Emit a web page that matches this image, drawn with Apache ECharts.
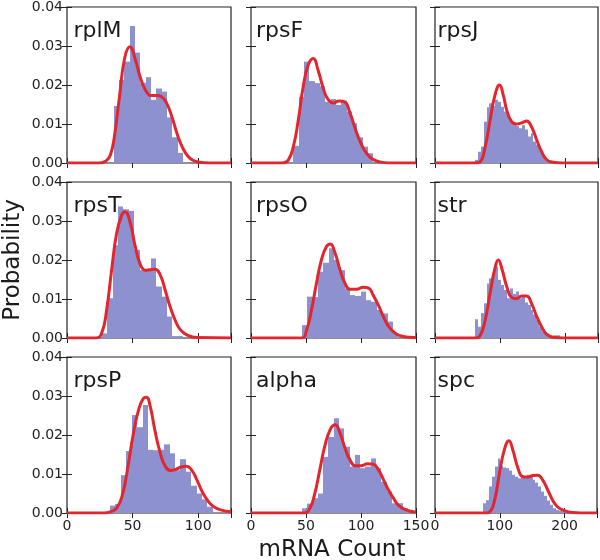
<!DOCTYPE html>
<html><head><meta charset="utf-8">
<script src="https://cdn.jsdelivr.net/npm/echarts@6/dist/echarts.min.js"></script>
<style>html,body{margin:0;padding:0;background:#fff}#c{width:600px;height:560px}</style>
</head><body><div id="c"></div>
<script>
// ---------- data ----------
const panelNames = ['rplM', 'rpsF', 'rpsJ', 'rpsT', 'rpsO', 'str', 'rpsP', 'alpha', 'spc'];
const colXMax = [125, 150, 250];
const colXInterval = [50, 50, 100];
const yMax = 0.04;
const yInterval = 0.01;
const xAxisTitle = 'mRNA Count';
const yAxisTitle = 'Probability';

// histogram bin starts, widths and heights
const histStart = [35.5, 38.5, 61, 26.4, 46.1, 61, 32.8, 46.1, 74];
const histWidth = [4.08, 4.85, 4.5, 4.15, 4.88, 4.5, 4.125, 4.83, 4.5];
const rplM_hist = [0.0146, 0.0213, 0.026, 0.0351, 0.0283, 0.0206, 0.022, 0.0162, 0.0191, 0.0183, 0.0117, 0.0066, 0.0026];
const rpsF_hist = [0.0044, 0.017, 0.026, 0.021, 0.0205, 0.0197, 0.0157, 0.0164, 0.0149, 0.016, 0.0132, 0.0102, 0.0066, 0.0042, 0.0025];
const rpsJ_hist = [0.0008, 0.0029, 0.0042, 0.0106, 0.0143, 0.0153, 0.0146, 0.0162, 0.0157, 0.0144, 0.0132, 0.0123, 0.0106, 0.01, 0.0095, 0.0089, 0.0097, 0.0086, 0.0068, 0.0076, 0.0055, 0.0047, 0.0033, 0.002, 0.001];
const rpsT_hist = [0.0012, 0.0102, 0.0238, 0.0337, 0.033, 0.0326, 0.0226, 0.0174, 0.0174, 0.0204, 0.0132, 0.0106, 0.0055, 0.0005, 0.0005];
const rpsO_hist = [0.0033, 0.0106, 0.0105, 0.017, 0.0193, 0.023, 0.02, 0.0174, 0.0127, 0.011, 0.0108, 0.0119, 0.0097, 0.0093, 0.0072, 0.0063, 0.0042, 0.0012];
const str_hist = [0.0048, 0.0029, 0.0064, 0.0089, 0.014, 0.0153, 0.0162, 0.0183, 0.0149, 0.0136, 0.0123, 0.0102, 0.0127, 0.0113, 0.0119, 0.0102, 0.0108, 0.0091, 0.0085, 0.0072, 0.006, 0.0046, 0.0029, 0.0016, 0.0009, 0, 0, 0.0007, 0.0007];
const rpsP_hist = [0.0019, 0.0023, 0.0097, 0.0159, 0.0251, 0.022, 0.0277, 0.0162, 0.0161, 0.0162, 0.0176, 0.0153, 0.011, 0.0138, 0.0106, 0.007, 0.005, 0.0035, 0.0016, 0.0003];
const alpha_hist = [0.0012, 0.0024, 0.0038, 0.005, 0.0144, 0.0195, 0.0243, 0.0217, 0.017, 0.0119, 0.0149, 0.0115, 0.0119, 0.014, 0.0115, 0.008, 0.0055, 0.0025, 0.0025, 0.0012, 0.0008];
const spc_hist = [0.0025, 0.0033, 0.0068, 0.0093, 0.0119, 0.014, 0.0121, 0.0117, 0.0115, 0.0109, 0.0098, 0.0093, 0.0089, 0.0093, 0.0091, 0.0098, 0.0093, 0.0085, 0.0078, 0.0068, 0.0055, 0.0044, 0.0032, 0.0021, 0.0012, 0.0008, 0.0006, 0.0004, 0.0003];

// fitted curves (x, probability)
const rplM_curveX = [0, 25, 30, 33, 36, 40, 44, 48, 52, 56, 60, 64, 68, 72, 76, 80, 84, 88, 92, 96, 101, 108, 125];
const rplM_curveY = [0, 0, 0.0006, 0.002, 0.0065, 0.017, 0.027, 0.0298, 0.0266, 0.0218, 0.0186, 0.0173, 0.0173, 0.017, 0.0153, 0.0118, 0.0074, 0.004, 0.0018, 0.0007, 0.0002, 0, 0];
const rpsF_curveX = [0, 29, 34, 38.5, 43, 47.5, 52, 56.5, 61, 65.5, 70, 75, 80, 85, 90, 95, 100, 105, 110, 117, 125, 150];
const rpsF_curveY = [0, 0, 0.0008, 0.0042, 0.011, 0.0196, 0.0251, 0.0268, 0.0238, 0.0193, 0.0163, 0.0154, 0.0159, 0.0157, 0.0128, 0.0086, 0.005, 0.0025, 0.0011, 0.0003, 0, 0];
const rpsJ_curveX = [0, 61, 69, 77, 84.5, 92, 99, 105, 110, 117.5, 125, 133, 140.5, 148, 156, 163.5, 171, 181, 195, 250];
const rpsJ_curveY = [0, 0, 0.0003, 0.0042, 0.011, 0.0174, 0.02, 0.0172, 0.0136, 0.0106, 0.01, 0.0103, 0.0108, 0.0093, 0.0059, 0.0029, 0.0009, 0.0002, 0, 0];
const rpsT_curveX = [0, 22, 26.4, 30.2, 34, 37.8, 41.7, 44.2, 48, 51.8, 55.6, 59.5, 63.3, 67.1, 71, 74.8, 78.6, 82.4, 86.2, 91.3, 99, 125];
const rpsT_curveY = [0, 0, 0.0012, 0.0072, 0.0174, 0.0268, 0.0315, 0.0324, 0.0298, 0.0238, 0.0191, 0.0174, 0.0175, 0.0176, 0.0162, 0.0123, 0.008, 0.0046, 0.0022, 0.0008, 0.0001, 0];
const rpsO_curveX = [0, 46, 50.5, 55, 59.5, 64, 68.5, 72, 76.5, 81, 85.5, 90, 96, 102, 107, 111, 116, 120, 125, 129.5, 135.5, 144.5, 150];
const rpsO_curveY = [0, 0, 0.002, 0.0072, 0.014, 0.02, 0.0234, 0.0241, 0.0217, 0.0174, 0.014, 0.0125, 0.0125, 0.013, 0.0128, 0.011, 0.0083, 0.0057, 0.003, 0.0016, 0.0006, 0.0002, 0.0001];
const str_curveX = [0, 61, 69, 77, 84.5, 92, 97, 103, 110, 117.5, 125, 133, 140.5, 148, 156, 163.5, 171, 181, 195, 250];
const str_curveY = [0, 0, 0.0006, 0.0046, 0.0115, 0.0179, 0.02, 0.0175, 0.0132, 0.0104, 0.0101, 0.0108, 0.0108, 0.0089, 0.0055, 0.0029, 0.001, 0.0002, 0, 0];
const rpsP_curveX = [0, 28, 33, 38, 42.5, 46.5, 50.5, 54.5, 58, 60.5, 63.5, 67, 71, 75, 79, 83, 87, 91, 95, 99, 103, 107, 111.5, 117, 125];
const rpsP_curveY = [0, 0, 0.0003, 0.0013, 0.005, 0.012, 0.0202, 0.0264, 0.0293, 0.0297, 0.0272, 0.0212, 0.0155, 0.0119, 0.0109, 0.0112, 0.0118, 0.012, 0.011, 0.0085, 0.0055, 0.0033, 0.0017, 0.0008, 0.0003];
const alpha_curveX = [0, 48, 53.5, 58, 62.5, 67, 72, 76.5, 81, 85.5, 90, 95, 100, 106, 111, 116, 120.5, 125, 129.5, 134, 140, 147.5, 150];
const alpha_curveY = [0, 0, 0.0012, 0.005, 0.011, 0.017, 0.0214, 0.0226, 0.0204, 0.0166, 0.0136, 0.0121, 0.0121, 0.0126, 0.0125, 0.011, 0.0085, 0.0059, 0.0038, 0.002, 0.0009, 0.0003, 0.0002];
const spc_curveX = [0, 78, 84.5, 92, 99.5, 107, 114, 120, 128, 135.5, 143, 151, 158.5, 166, 174, 181.5, 189, 199.5, 212, 225, 250];
const spc_curveY = [0, 0, 0.0003, 0.0033, 0.0102, 0.0162, 0.0185, 0.0162, 0.0115, 0.0093, 0.0092, 0.0096, 0.0097, 0.0085, 0.0059, 0.0033, 0.0016, 0.0006, 0.0001, 0, 0];

const histHeights = [rplM_hist, rpsF_hist, rpsJ_hist, rpsT_hist, rpsO_hist, str_hist, rpsP_hist, alpha_hist, spc_hist];
const curveXs = [rplM_curveX, rpsF_curveX, rpsJ_curveX, rpsT_curveX, rpsO_curveX, str_curveX, rpsP_curveX, alpha_curveX, spc_curveX];
const curveYs = [rplM_curveY, rpsF_curveY, rpsJ_curveY, rpsT_curveY, rpsO_curveY, str_curveY, rpsP_curveY, alpha_curveY, spc_curveY];

// ---------- layout / style ----------
const colLeft = [67, 251, 435];
const colWidth = [164, 165, 163];
const rowTop = [7, 182, 357];
const rowHeight = 156;
const titleOffsetX = [6.5, 5, 2.5];
const titleOffsetY = 13;
const FONT = 'DejaVu Sans';
const barColor = '#8e91cf';
const lineColor = '#e3262e';
const frameColor = '#222';

const grids = [], xAxes = [], yAxes = [], series = [], titles = [];
for (let i = 0; i < 9; i++) {
  const r = Math.floor(i / 3), c = i % 3;
  grids.push({ left: colLeft[c], top: rowTop[r], width: colWidth[c], height: rowHeight,
    show: true, borderColor: frameColor, borderWidth: 1.2, backgroundColor: 'transparent', containLabel: false });
  const tick = { show: true, inside: true, length: 5, lineStyle: { color: frameColor, width: 1 } };
  const interval = colXInterval[c];
  const xBase = { gridIndex: i, type: 'value', min: 0, max: colXMax[c], interval: interval,
    axisLine: { show: false }, splitLine: { show: false }, axisTick: tick };
  xAxes.push(Object.assign({}, xBase, { position: 'bottom',
    axisLabel: { show: r === 2, margin: 6, fontSize: 14, fontFamily: FONT, color: '#222',
      formatter: v => (v % interval === 0 ? String(v) : '') } }));
  xAxes.push(Object.assign({}, xBase, { position: 'top', axisLabel: { show: false } }));
  const yBase = { gridIndex: i, type: 'value', min: 0, max: yMax, interval: yInterval,
    axisLine: { show: false }, splitLine: { show: false }, axisTick: tick };
  yAxes.push(Object.assign({}, yBase, { position: 'left',
    axisLabel: { show: c === 0, margin: 4, fontSize: 14, fontFamily: FONT, color: '#222',
      formatter: v => v.toFixed(2) } }));
  yAxes.push(Object.assign({}, yBase, { position: 'right', axisLabel: { show: false } }));

  const bars = histHeights[i].map((h, k) => [histStart[i] + k * histWidth[i], histStart[i] + (k + 1) * histWidth[i], h]);
  series.push({ type: 'custom', xAxisIndex: 2 * i, yAxisIndex: 2 * i, data: bars, z: 2,
    encode: { x: [0, 1], y: 2 }, silent: true,
    renderItem: (params, api) => {
      const p0 = api.coord([api.value(0), api.value(2)]);
      const p1 = api.coord([api.value(1), 0]);
      const xa = Math.round(p0[0]), xb = Math.round(p1[0]);
      return { type: 'rect', shape: { x: xa, y: p0[1], width: xb - xa, height: p1[1] - p0[1] },
        style: { fill: barColor, stroke: null } };
    } });
  series.push({ type: 'line', xAxisIndex: 2 * i, yAxisIndex: 2 * i, z: 5,
    data: curveXs[i].map((x, k) => [x, curveYs[i][k]]),
    showSymbol: false, smooth: 0.5, silent: true,
    lineStyle: { color: lineColor, width: 3 } });
  titles.push({ text: panelNames[i], left: colLeft[c] + titleOffsetX[c], top: rowTop[r] + titleOffsetY, padding: 0,
    textStyle: { fontSize: 22, fontWeight: 'normal', fontFamily: FONT, color: '#1a1a1a' } });
}

const chart = echarts.init(document.getElementById('c'), null, { renderer: 'canvas' });
chart.setOption({
  animation: false,
  backgroundColor: '#fff',
  title: titles,
  grid: grids,
  xAxis: xAxes,
  yAxis: yAxes,
  series: series,
  graphic: [
    { type: 'text', x: 332, y: 550, style: { text: xAxisTitle, fontSize: 23, fontFamily: FONT, fill: '#1a1a1a', align: 'center', verticalAlign: 'middle' } },
    { type: 'text', x: 13, y: 260, rotation: Math.PI / 2, style: { text: yAxisTitle, fontSize: 23, fontFamily: FONT, fill: '#1a1a1a', align: 'center', verticalAlign: 'middle' } }
  ]
});
</script>
</body></html>
